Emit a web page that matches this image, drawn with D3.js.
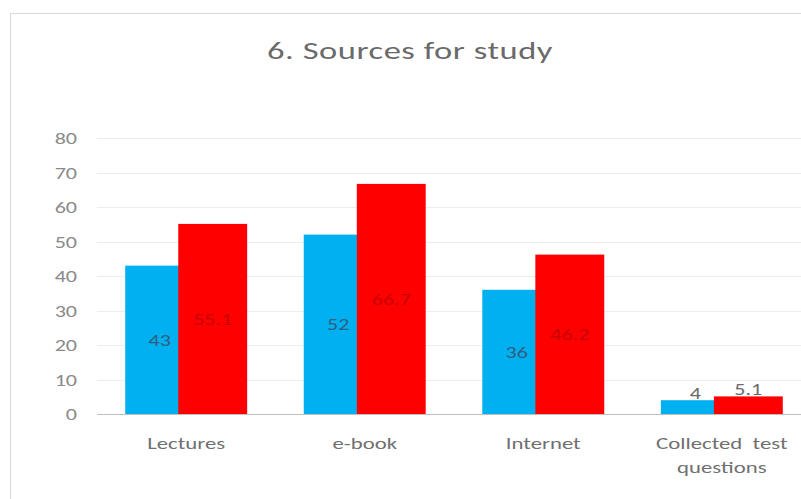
<!DOCTYPE html>
<html>
<head>
<meta charset="utf-8">
<title>6. Sources for study</title>
<script src="https://cdn.jsdelivr.net/npm/d3@7"></script>
<style>
  body { margin: 0; background: #fff; }
  text { font-family: Carlito, "Open Sans", "Noto Sans", sans-serif; }
</style>
</head>
<body>
<svg width="801" height="499"></svg>
<script>
// data
var categories = ["Lectures", "e-book", "Internet", "Collected test questions"];
var seriesA = [43, 52, 36, 4];          // blue
var seriesB = [55.1, 66.7, 46.2, 5.1];  // red
var yTicks = [0, 10, 20, 30, 40, 50, 60, 70, 80];

var svg = d3.select("svg");
var sx = 1.38; // the picture is stretched sideways, text too

function put(x, y) {
  return "translate(" + x + "," + y + ") scale(" + sx + ",1)";
}

// outer chart frame (runs off right and bottom)
svg.append("rect")
    .attr("x", 10.5).attr("y", 13.5)
    .attr("width", 820).attr("height", 520)
    .attr("fill", "#fff")
    .attr("stroke", "#d9d9d9");

svg.append("text")
    .attr("transform", put(410, 59))
    .attr("text-anchor", "middle")
    .attr("font-size", 25)
    .attr("fill", "#6a6a6a")
    .attr("letter-spacing", 0.4)
    .text("6. Sources for study");

var x = d3.scaleBand()
    .domain(categories)
    .range([97, 811])
    .paddingInner(0.317)
    .paddingOuter(0.158);

var y = d3.scaleLinear().domain([0, 80]).range([414, 138]);

// grid
svg.append("g").selectAll("line")
    .data(yTicks.slice(1))
    .enter().append("line")
    .attr("x1", 97).attr("x2", 801)
    .attr("y1", function(d) { return Math.round(y(d)) + 0.5; })
    .attr("y2", function(d) { return Math.round(y(d)) + 0.5; })
    .attr("stroke", "#ededed");

// y tick labels
svg.append("g").selectAll("text")
    .data(yTicks)
    .enter().append("text")
    .attr("transform", function(d) { return put(77, y(d) + 6); })
    .attr("text-anchor", "end")
    .attr("font-size", 16)
    .attr("fill", "#8a8a8a")
    .text(function(d) { return d; });

var overlap = 0.23;
var bw = x.bandwidth() / (2 - overlap);
var step = bw * (1 - overlap);

var series = [
  { values: seriesA, color: "#00b0f0", label: "#2f5f80", dx: 0 },
  { values: seriesB, color: "#ff0000", label: "#c80000", dx: step }
];

series.forEach(function(s) {
  svg.append("g").selectAll("rect")
    .data(s.values)
    .enter().append("rect")
    .attr("x", function(d, i) { return x(categories[i]) + s.dx; })
    .attr("y", function(d) { return y(d); })
    .attr("width", bw)
    .attr("height", function(d) { return y(0) - y(d); })
    .attr("fill", s.color);
});

series.forEach(function(s) {
  svg.append("g").selectAll("text")
    .data(s.values)
    .enter().append("text")
    .attr("transform", function(d, i) {
      var cx = x(categories[i]) + s.dx + bw / 2;
      var h = y(0) - y(d);
      var ty = h > 30 ? (y(0) + y(d)) / 2 + 6 : y(d) - 1;
      return put(cx, ty);
    })
    .attr("text-anchor", "middle")
    .attr("font-size", 16)
    .attr("fill", function(d) { return (y(0) - y(d)) > 30 ? s.label : "#6a6a6a"; })
    .text(function(d) { return d; });
});

// baseline
svg.append("line")
    .attr("x1", 97).attr("x2", 801)
    .attr("y1", 414.5).attr("y2", 414.5)
    .attr("stroke", "#bfbfbf");

// category labels, wrapped
svg.append("g").selectAll("text")
    .data(categories)
    .enter().append("text")
    .attr("transform", function(d) { return put(x(d) + x.bandwidth() / 2, 449); })
    .attr("text-anchor", "middle")
    .attr("font-size", 16.5)
    .attr("fill", "#707070")
    .each(function(d) {
      var t = d3.select(this);
      var lines = d === "Collected test questions" ? ["Collected  test", "questions"] : [d];
      lines.forEach(function(l, k) {
        t.append("tspan")
          .attr("x", 0)
          .attr("dy", k === 0 ? 0 : 24)
          .attr("xml:space", "preserve")
          .text(l);
      });
    });
</script>
</body>
</html>
